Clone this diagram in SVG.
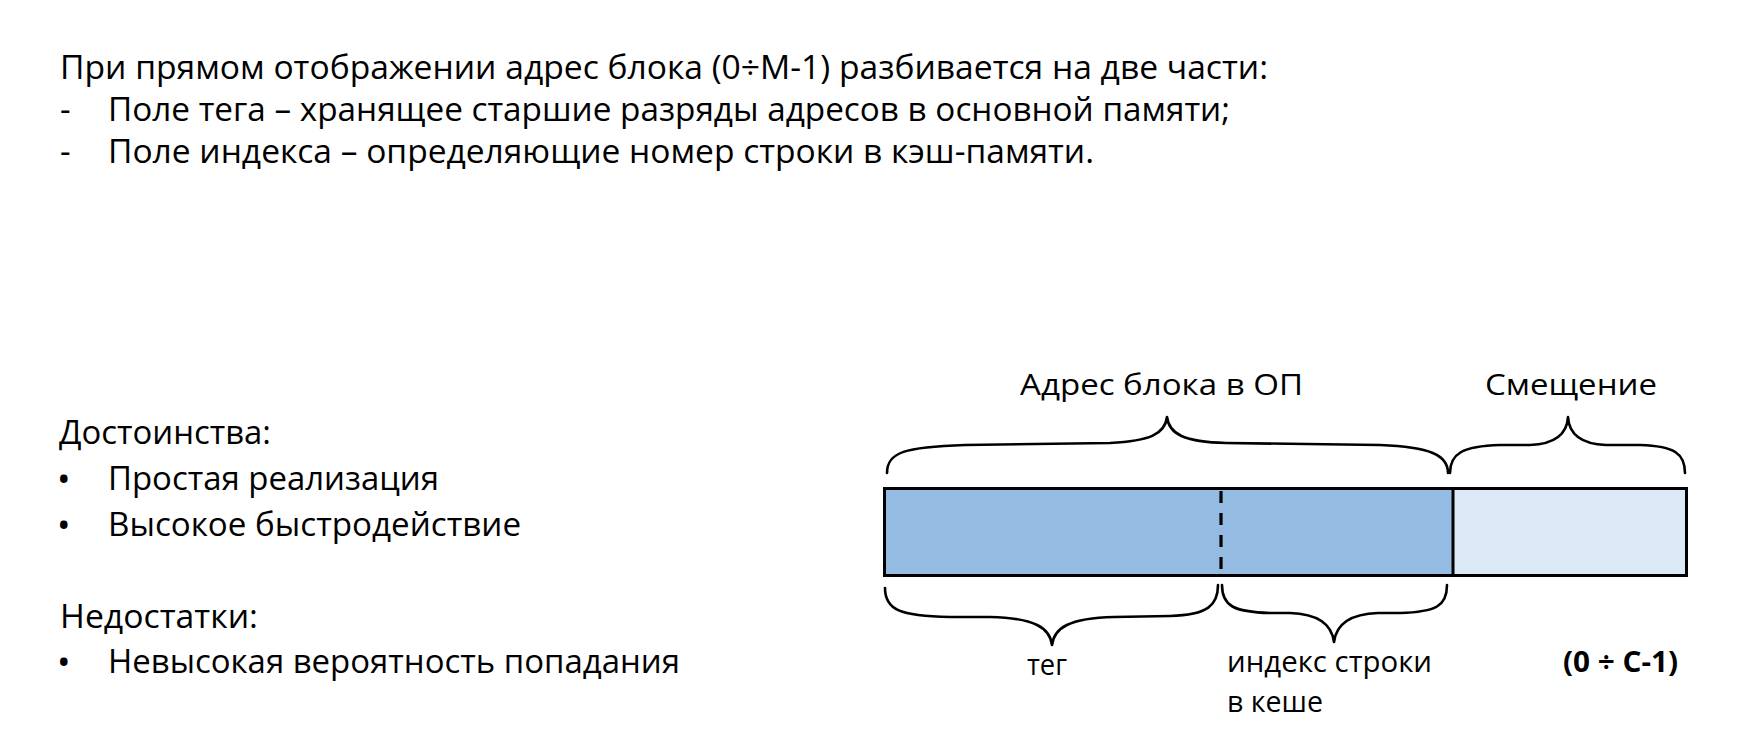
<svg xmlns="http://www.w3.org/2000/svg" width="1742" height="754" viewBox="0 0 1742 754">
<style>
.t{font-family:"Open Sans","Noto Sans","Liberation Sans",sans-serif;font-size:33px;fill:#000}
.s{font-family:"Open Sans","Noto Sans","Liberation Sans",sans-serif;font-size:29px;fill:#000}
.bu{font-family:"Open Sans","Noto Sans","Liberation Sans",sans-serif;font-size:36px;fill:#000}
.b{font-weight:bold}
.br{fill:none;stroke:#000;stroke-width:2.6;stroke-linecap:round;stroke-linejoin:round}
.edge{fill:none;stroke:#000;stroke-width:3}
</style>
<rect width="1742" height="754" fill="#fff"/>
<g id="intro">
<text class="t" x="60" y="79" textLength="1208" lengthAdjust="spacingAndGlyphs">При прямом отображении адрес блока (0÷M-1) разбивается на две части:</text>
<text class="t" x="60" y="121">-</text>
<text class="t" x="108" y="121" textLength="1122" lengthAdjust="spacingAndGlyphs">Поле тега – хранящее старшие разряды адресов в основной памяти;</text>
<text class="t" x="60" y="163">-</text>
<text class="t" x="108" y="163" textLength="986" lengthAdjust="spacingAndGlyphs">Поле индекса – определяющие номер строки в кэш-памяти.</text>
</g>
<g id="pros">
<text class="t" x="59" y="444" textLength="212" lengthAdjust="spacingAndGlyphs">Достоинства:</text>
<text class="bu" x="57" y="492">•</text>
<text class="t" x="108" y="490" textLength="331" lengthAdjust="spacingAndGlyphs">Простая реализация</text>
<text class="bu" x="57" y="538">•</text>
<text class="t" x="108" y="536" textLength="413" lengthAdjust="spacingAndGlyphs">Высокое быстродействие</text>
</g>
<g id="cons">
<text class="t" x="60" y="628" textLength="198" lengthAdjust="spacingAndGlyphs">Недостатки:</text>
<text class="bu" x="57" y="675">•</text>
<text class="t" x="108" y="673" textLength="572" lengthAdjust="spacingAndGlyphs">Невысокая вероятность попадания</text>
</g>
<g id="address-bar">
<rect x="884.5" y="488.5" width="568.5" height="87" fill="#94BCE3"/>
<rect x="1453" y="488.5" width="233.5" height="87" fill="#DBE8F5"/>
<line x1="1221" y1="491" x2="1221" y2="574" stroke="#000" stroke-width="3.2" stroke-dasharray="12 10"/>
<line x1="1453" y1="488.5" x2="1453" y2="575.5" stroke="#000" stroke-width="3"/>
<rect class="edge" x="884.5" y="488.5" width="802" height="87"/>
</g>
<g id="labels">
<text class="s" x="1020" y="395" textLength="283" lengthAdjust="spacingAndGlyphs">Адрес блока в ОП</text>
<text class="s" x="1485" y="395" textLength="172" lengthAdjust="spacingAndGlyphs">Смещение</text>
<text class="s" x="1027" y="675" textLength="40" lengthAdjust="spacingAndGlyphs">тег</text>
<text class="s" x="1227" y="672" textLength="205" lengthAdjust="spacingAndGlyphs">индекс строки</text>
<text class="s" x="1227" y="712" textLength="96" lengthAdjust="spacingAndGlyphs">в кеше</text>
<text class="s b" x="1563" y="672" textLength="115" lengthAdjust="spacingAndGlyphs">(0 ÷ C-1)</text>
</g>
<g id="connectors">
<path class="br" d="M887 473 C887 452 905 447 965 445 L1110 443 C1150 441 1165 434 1167 417 C1169 434 1184 442 1226 443 L1380 445 C1430 447 1448 455 1448 473"/>
<path class="br" d="M1450 473 C1450 454 1462 446 1500 445 L1530 445 C1556 444 1567 434 1568 417 C1569 434 1580 444 1606 445 L1640 445 C1675 446 1685 454 1685 473"/>
<path class="br" d="M885 588 C885 610 900 616 950 617 L990 617 C1035 618 1050 628 1052 645 C1054 628 1069 618 1114 617 L1170 616 C1208 615 1218 605 1218 585"/>
<path class="br" d="M1222 585 C1222 606 1234 612 1270 613 L1290 613 C1320 614 1332 626 1334 642 C1336 626 1348 614 1378 613 L1400 613 C1436 612 1447 606 1447 585"/>
</g>
</svg>
